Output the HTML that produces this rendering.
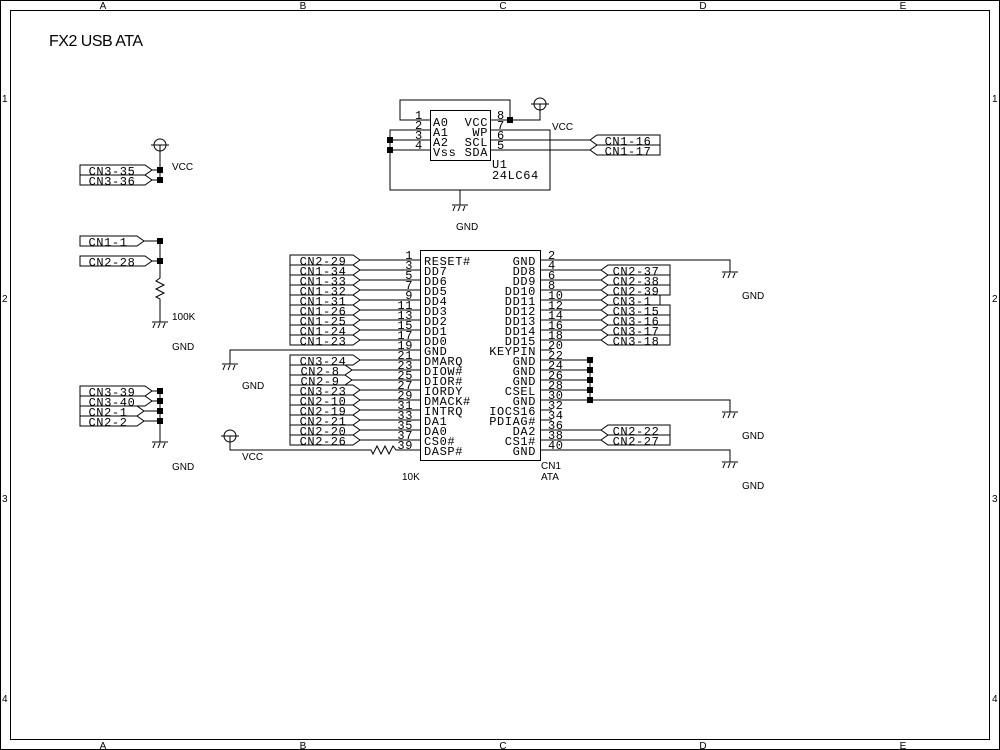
<!DOCTYPE html>
<html><head><meta charset="utf-8"><style>
html,body{margin:0;padding:0;background:#fff;}
svg{display:block;}
text{font-family:"Liberation Mono",monospace;font-size:12px;fill:#000;letter-spacing:0.6px;}
.s{font-family:"Liberation Sans",sans-serif;font-size:10px;letter-spacing:0;}
.t{font-family:"Liberation Sans",sans-serif;font-size:16px;letter-spacing:-0.5px;}
.m{text-anchor:middle}.e{text-anchor:end}
line,polyline,polygon,rect,circle,path{stroke:#000;stroke-width:1;fill:none;}
.d{fill:#000;stroke:none;}
</style></head><body>
<svg width="1000" height="750" viewBox="0 0 1000 750" xmlns="http://www.w3.org/2000/svg">
<defs>
<g id="gnd"><line x1="-8" y1="0" x2="8" y2="0" stroke-width="2"/><line x1="-5" y1="1" x2="-7" y2="6"/><line x1="0" y1="1" x2="-2" y2="6"/><line x1="5" y1="1" x2="3" y2="6"/></g>
<g id="vcc"><circle cx="0" cy="0" r="6"/><line x1="-9" y1="0" x2="9" y2="0"/><line x1="0" y1="0" x2="0" y2="6"/></g>
<rect id="dot" x="-3" y="-3" width="6" height="6" class="d"/>
</defs>
<rect x="0.5" y="0.5" width="999" height="749"/>
<rect x="10.5" y="10.5" width="979" height="729"/>
<g class="s">
<text x="103" y="9" class="m s">A</text><text x="303" y="9" class="m s">B</text><text x="503" y="9" class="m s">C</text><text x="703" y="9" class="m s">D</text><text x="903" y="9" class="m s">E</text>
<text x="103" y="749" class="m s">A</text><text x="303" y="749" class="m s">B</text><text x="503" y="749" class="m s">C</text><text x="703" y="749" class="m s">D</text><text x="903" y="749" class="m s">E</text>
<text x="2" y="102" class="s">1</text><text x="2" y="302" class="s">2</text><text x="2" y="502" class="s">3</text><text x="2" y="702" class="s">4</text>
<text x="992" y="102" class="s">1</text><text x="992" y="302" class="s">2</text><text x="992" y="502" class="s">3</text><text x="992" y="702" class="s">4</text>
</g>
<text x="49" y="46" class="t">FX2 USB ATA</text>

<!-- U1 -->
<rect x="430.5" y="110.5" width="60" height="50"/>
<polyline points="430,120 400,120 400,100 510,100 510,120 490,120"/>
<line x1="410" y1="130" x2="430" y2="130"/><line x1="390" y1="140" x2="430" y2="140"/><line x1="390" y1="150" x2="430" y2="150"/>
<polyline points="430,130 390,130 390,190 550,190 550,130 490,130"/>
<polyline points="510,120 540,120 540,110"/>
<use href="#vcc" x="540" y="104"/>
<use href="#dot" x="510" y="120"/><use href="#dot" x="390" y="140"/><use href="#dot" x="390" y="150"/>
<line x1="460" y1="190" x2="460" y2="205"/><use href="#gnd" x="460" y="205"/>
<text x="456" y="230" class="s">GND</text><text x="552" y="130" class="s">VCC</text>
<line x1="490" y1="140" x2="590" y2="140"/><line x1="490" y1="150" x2="590" y2="150"/>
<polygon points="590,140 597,135 660,135 660,145 597,145"/><polygon points="590,150 597,145 660,145 660,155 597,155"/>
<text x="628" y="145" class="m">CN1-16</text><text x="628" y="155" class="m">CN1-17</text>
<text x="415" y="119">1</text><text x="415" y="129">2</text><text x="415" y="139">3</text><text x="415" y="149">4</text>
<text x="497" y="119">8</text><text x="497" y="129">7</text><text x="497" y="139">6</text><text x="497" y="149">5</text>
<text x="433" y="126">A0</text><text x="433" y="136">A1</text><text x="433" y="146">A2</text><text x="433" y="156">Vss</text>
<text x="488" y="126" class="e">VCC</text><text x="488" y="136" class="e">WP</text><text x="488" y="146" class="e">SCL</text><text x="488" y="156" class="e">SDA</text>
<text x="492" y="168">U1</text><text x="492" y="179">24LC64</text>

<!-- left VCC group -->
<use href="#vcc" x="160" y="145"/><line x1="160" y1="150" x2="160" y2="180"/>
<polygon points="80,165 145,165 152,170 145,175 80,175"/><polygon points="80,175 145,175 152,180 145,185 80,185"/>
<line x1="152" y1="170" x2="160" y2="170"/><line x1="152" y1="180" x2="160" y2="180"/>
<use href="#dot" x="160" y="170"/><use href="#dot" x="160" y="180"/>
<text x="112" y="175" class="m">CN3-35</text><text x="112" y="185" class="m">CN3-36</text>
<text x="172" y="170" class="s">VCC</text>

<!-- 100K group -->
<polygon points="80,236 137,236 144,241 137,246 80,246"/><polygon points="80,256 145,256 152,261 145,266 80,266"/>
<line x1="144" y1="241" x2="160" y2="241"/><line x1="152" y1="261" x2="160" y2="261"/>
<text x="108" y="246" class="m">CN1-1</text><text x="112" y="266" class="m">CN2-28</text>
<use href="#dot" x="160" y="241"/><use href="#dot" x="160" y="261"/>
<polyline points="160,241 160,278 156,281 164,285 156,289 164,293 156,297 160,299 160,322"/>
<use href="#gnd" x="160" y="322"/>
<text x="172" y="320" class="s">100K</text><text x="172" y="350" class="s">GND</text>

<!-- GND group -->
<polygon points="80,386 145,386 152,391 145,396 80,396"/><polygon points="80,396 145,396 152,401 145,406 80,406"/>
<polygon points="80,406 137,406 144,411 137,416 80,416"/><polygon points="80,416 137,416 144,421 137,426 80,426"/>
<line x1="152" y1="391" x2="160" y2="391"/><line x1="152" y1="401" x2="160" y2="401"/><line x1="144" y1="411" x2="160" y2="411"/><line x1="144" y1="421" x2="160" y2="421"/>
<text x="112" y="396" class="m">CN3-39</text><text x="112" y="406" class="m">CN3-40</text><text x="108" y="416" class="m">CN2-1</text><text x="108" y="426" class="m">CN2-2</text>
<use href="#dot" x="160" y="391"/><use href="#dot" x="160" y="401"/><use href="#dot" x="160" y="411"/><use href="#dot" x="160" y="421"/>
<line x1="160" y1="391" x2="160" y2="442"/><use href="#gnd" x="160" y="442"/>
<text x="172" y="470" class="s">GND</text>

<!-- CN1 box -->
<rect x="420.5" y="250.5" width="120" height="210"/>
<g>
<!-- left pin lines -->
<line x1="360" y1="260" x2="420" y2="260"/><line x1="360" y1="270" x2="420" y2="270"/><line x1="360" y1="280" x2="420" y2="280"/><line x1="360" y1="290" x2="420" y2="290"/><line x1="360" y1="300" x2="420" y2="300"/><line x1="360" y1="310" x2="420" y2="310"/><line x1="360" y1="320" x2="420" y2="320"/><line x1="360" y1="330" x2="420" y2="330"/><line x1="360" y1="340" x2="420" y2="340"/>
<polyline points="420,350 230,350 230,364"/><use href="#gnd" x="230" y="364"/><text x="242" y="389" class="s">GND</text>
<line x1="360" y1="360" x2="420" y2="360"/><line x1="352" y1="370" x2="420" y2="370"/><line x1="352" y1="380" x2="420" y2="380"/><line x1="360" y1="390" x2="420" y2="390"/><line x1="360" y1="400" x2="420" y2="400"/><line x1="360" y1="410" x2="420" y2="410"/><line x1="360" y1="420" x2="420" y2="420"/><line x1="360" y1="430" x2="420" y2="430"/><line x1="360" y1="440" x2="420" y2="440"/>
<polyline points="420,450 396,450 393,446 389,454 385,446 381,454 377,446 373,454 371,450 230,450 230,436"/>
<use href="#vcc" x="230" y="436"/><text x="242" y="460" class="s">VCC</text><text x="402" y="480" class="s">10K</text>
<!-- left labels -->
<polygon points="290,255 353,255 360,260 353,265 290,265"/><polygon points="290,265 353,265 360,270 353,275 290,275"/><polygon points="290,275 353,275 360,280 353,285 290,285"/><polygon points="290,285 353,285 360,290 353,295 290,295"/><polygon points="290,295 353,295 360,300 353,305 290,305"/><polygon points="290,305 353,305 360,310 353,315 290,315"/><polygon points="290,315 353,315 360,320 353,325 290,325"/><polygon points="290,325 353,325 360,330 353,335 290,335"/><polygon points="290,335 353,335 360,340 353,345 290,345"/>
<polygon points="290,355 353,355 360,360 353,365 290,365"/><polygon points="290,365 345,365 352,370 345,375 290,375"/><polygon points="290,375 345,375 352,380 345,385 290,385"/><polygon points="290,385 353,385 360,390 353,395 290,395"/><polygon points="290,395 353,395 360,400 353,405 290,405"/><polygon points="290,405 353,405 360,410 353,415 290,415"/><polygon points="290,415 353,415 360,420 353,425 290,425"/><polygon points="290,425 353,425 360,430 353,435 290,435"/><polygon points="290,435 353,435 360,440 353,445 290,445"/>
<text x="323" y="265" class="m">CN2-29</text><text x="323" y="275" class="m">CN1-34</text><text x="323" y="285" class="m">CN1-33</text><text x="323" y="295" class="m">CN1-32</text><text x="323" y="305" class="m">CN1-31</text><text x="323" y="315" class="m">CN1-26</text><text x="323" y="325" class="m">CN1-25</text><text x="323" y="335" class="m">CN1-24</text><text x="323" y="345" class="m">CN1-23</text>
<text x="323" y="365" class="m">CN3-24</text><text x="320" y="375" class="m">CN2-8</text><text x="320" y="385" class="m">CN2-9</text><text x="323" y="395" class="m">CN3-23</text><text x="323" y="405" class="m">CN2-10</text><text x="323" y="415" class="m">CN2-19</text><text x="323" y="425" class="m">CN2-21</text><text x="323" y="435" class="m">CN2-20</text><text x="323" y="445" class="m">CN2-26</text>
<!-- left pin numbers -->
<g class="e">
<text x="413" y="259" class="e">1</text><text x="413" y="269" class="e">3</text><text x="413" y="279" class="e">5</text><text x="413" y="289" class="e">7</text><text x="413" y="299" class="e">9</text><text x="413" y="309" class="e">11</text><text x="413" y="319" class="e">13</text><text x="413" y="329" class="e">15</text><text x="413" y="339" class="e">17</text><text x="413" y="349" class="e">19</text>
<text x="413" y="359" class="e">21</text><text x="413" y="369" class="e">23</text><text x="413" y="379" class="e">25</text><text x="413" y="389" class="e">27</text><text x="413" y="399" class="e">29</text><text x="413" y="409" class="e">31</text><text x="413" y="419" class="e">33</text><text x="413" y="429" class="e">35</text><text x="413" y="439" class="e">37</text><text x="413" y="449" class="e">39</text>
</g>
<!-- inside names -->
<text x="424" y="265">RESET#</text><text x="424" y="275">DD7</text><text x="424" y="285">DD6</text><text x="424" y="295">DD5</text><text x="424" y="305">DD4</text><text x="424" y="315">DD3</text><text x="424" y="325">DD2</text><text x="424" y="335">DD1</text><text x="424" y="345">DD0</text><text x="424" y="355">GND</text>
<text x="424" y="365">DMARQ</text><text x="424" y="375">DIOW#</text><text x="424" y="385">DIOR#</text><text x="424" y="395">IORDY</text><text x="424" y="405">DMACK#</text><text x="424" y="415">INTRQ</text><text x="424" y="425">DA1</text><text x="424" y="435">DA0</text><text x="424" y="445">CS0#</text><text x="424" y="455">DASP#</text>
<text x="536" y="265" class="e">GND</text><text x="536" y="275" class="e">DD8</text><text x="536" y="285" class="e">DD9</text><text x="536" y="295" class="e">DD10</text><text x="536" y="305" class="e">DD11</text><text x="536" y="315" class="e">DD12</text><text x="536" y="325" class="e">DD13</text><text x="536" y="335" class="e">DD14</text><text x="536" y="345" class="e">DD15</text><text x="536" y="355" class="e">KEYPIN</text>
<text x="536" y="365" class="e">GND</text><text x="536" y="375" class="e">GND</text><text x="536" y="385" class="e">GND</text><text x="536" y="395" class="e">CSEL</text><text x="536" y="405" class="e">GND</text><text x="536" y="415" class="e">IOCS16</text><text x="536" y="425" class="e">PDIAG#</text><text x="536" y="435" class="e">DA2</text><text x="536" y="445" class="e">CS1#</text><text x="536" y="455" class="e">GND</text>
<!-- right pin numbers -->
<text x="548" y="259">2</text><text x="548" y="269">4</text><text x="548" y="279">6</text><text x="548" y="289">8</text><text x="548" y="299">10</text><text x="548" y="309">12</text><text x="548" y="319">14</text><text x="548" y="329">16</text><text x="548" y="339">18</text><text x="548" y="349">20</text>
<text x="548" y="359">22</text><text x="548" y="369">24</text><text x="548" y="379">26</text><text x="548" y="389">28</text><text x="548" y="399">30</text><text x="548" y="409">32</text><text x="548" y="419">34</text><text x="548" y="429">36</text><text x="548" y="439">38</text><text x="548" y="449">40</text>
<!-- right lines -->
<polyline points="540,260 730,260 730,272"/><use href="#gnd" x="730" y="272"/><text x="742" y="299" class="s">GND</text>
<line x1="540" y1="270" x2="601" y2="270"/><line x1="540" y1="280" x2="601" y2="280"/><line x1="540" y1="290" x2="601" y2="290"/><line x1="540" y1="300" x2="601" y2="300"/><line x1="540" y1="310" x2="601" y2="310"/><line x1="540" y1="320" x2="601" y2="320"/><line x1="540" y1="330" x2="601" y2="330"/><line x1="540" y1="340" x2="601" y2="340"/>
<line x1="540" y1="350" x2="552" y2="350"/>
<line x1="540" y1="360" x2="590" y2="360"/><line x1="540" y1="370" x2="590" y2="370"/><line x1="540" y1="380" x2="590" y2="380"/><line x1="540" y1="390" x2="590" y2="390"/>
<polyline points="540,400 730,400 730,412"/><line x1="590" y1="360" x2="590" y2="400"/>
<use href="#dot" x="590" y="360"/><use href="#dot" x="590" y="370"/><use href="#dot" x="590" y="380"/><use href="#dot" x="590" y="390"/><use href="#dot" x="590" y="400"/>
<use href="#gnd" x="730" y="412"/><text x="742" y="439" class="s">GND</text>
<line x1="540" y1="410" x2="552" y2="410"/><line x1="540" y1="420" x2="552" y2="420"/>
<line x1="540" y1="430" x2="601" y2="430"/><line x1="540" y1="440" x2="601" y2="440"/>
<polyline points="540,450 730,450 730,462"/><use href="#gnd" x="730" y="462"/><text x="742" y="489" class="s">GND</text>
<!-- right labels -->
<polygon points="601,270 608,265 670,265 670,275 608,275"/><polygon points="601,280 608,275 670,275 670,285 608,285"/><polygon points="601,290 608,285 670,285 670,295 608,295"/><polygon points="601,300 608,295 660,295 660,305 608,305"/><polygon points="601,310 608,305 670,305 670,315 608,315"/><polygon points="601,320 608,315 670,315 670,325 608,325"/><polygon points="601,330 608,325 670,325 670,335 608,335"/><polygon points="601,340 608,335 670,335 670,345 608,345"/>
<polygon points="601,430 608,425 670,425 670,435 608,435"/><polygon points="601,440 608,435 670,435 670,445 608,445"/>
<text x="636" y="275" class="m">CN2-37</text><text x="636" y="285" class="m">CN2-38</text><text x="636" y="295" class="m">CN2-39</text><text x="632" y="305" class="m">CN3-1</text><text x="636" y="315" class="m">CN3-15</text><text x="636" y="325" class="m">CN3-16</text><text x="636" y="335" class="m">CN3-17</text><text x="636" y="345" class="m">CN3-18</text>
<text x="636" y="435" class="m">CN2-22</text><text x="636" y="445" class="m">CN2-27</text>
<text x="541" y="469" class="s">CN1</text><text x="541" y="480" class="s">ATA</text>
</g>
</svg>
</body></html>
